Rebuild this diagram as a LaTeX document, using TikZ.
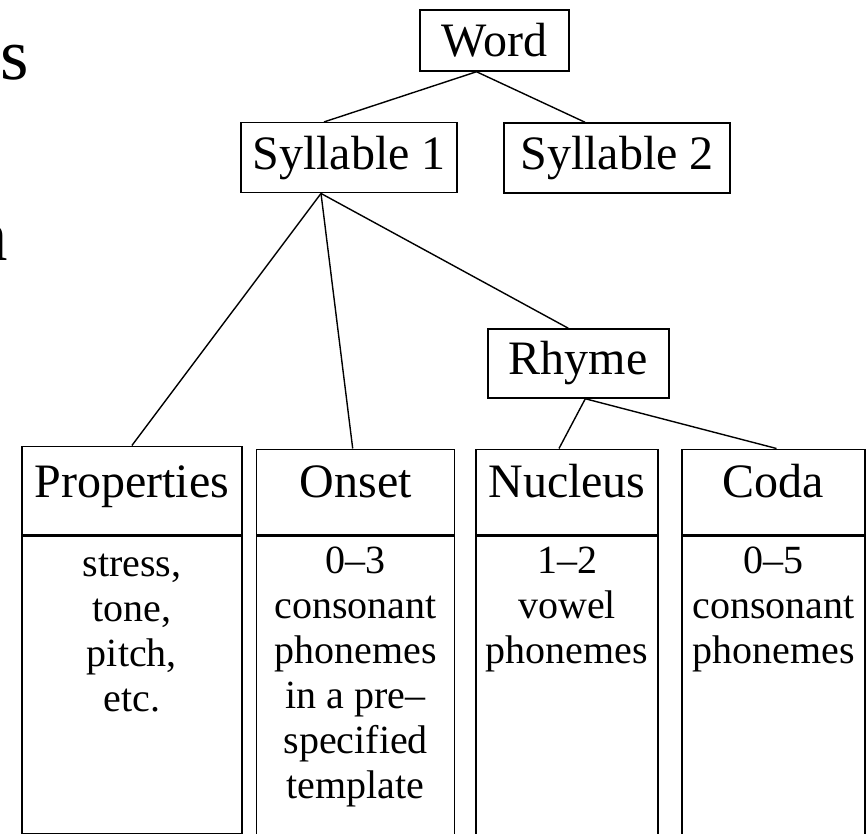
\documentclass[tikz,border=0pt]{standalone}
\usepackage{fontspec}
\setmainfont{Liberation Serif}
\usetikzlibrary{positioning}

\begin{document}
\begin{tikzpicture}[x=1pt,y=-1pt,box/.style={draw,line width=1.5pt,inner sep=0pt,font=\fontsize{48}{54}\selectfont},header/.style={box,anchor=south,text height=33pt,text depth=22pt,inner ysep=15pt},colbody/.style={draw,line width=1.5pt,anchor=north,inner sep=0pt},bodytxt/.style={align=center,inner sep=0pt,font=\fontsize{40}{45}\selectfont},link/.style={line width=1.4pt}]
\useasboundingbox (0,0) rectangle (867,834);
\node[anchor=base east,inner sep=0pt,font=\fontsize{73}{80}\selectfont] (frags) at (29,80) {s};
\node[anchor=base east,inner sep=0pt,font=\fontsize{73}{80}\selectfont] (fragn) at (8,261) {n};
\node[box,minimum width=149pt,minimum height=61pt] (word) at (494.5,40.5) {Word};
\node[box,minimum width=216pt,minimum height=70pt] (syl1) at (349,157.7) {Syllable 1};
\node[box,minimum width=226pt,minimum height=70pt] (syl2) at (617,158) {Syllable 2};
\node[box,minimum width=181pt,minimum height=69pt] (rhyme) at (578.3,363.5) {Rhyme};
% columns
\node[header,minimum width=220pt,text height=36pt] (props) at (131.9,535) {Properties};
\node[header,minimum width=198pt] (onset) at (355.7,535) {Onset};
\node[header,minimum width=182pt] (nucleus) at (567,535) {Nucleus};
\node[header,minimum width=183pt] (coda) at (773.5,535) {Coda};
\node[colbody,minimum width=220pt,minimum height=298pt] (propsbody) at (131.9,535) {};
\node[colbody,minimum width=198pt,minimum height=330pt] (onsetbody) at (355.7,535) {};
\node[colbody,minimum width=182pt,minimum height=330pt] (nucleusbody) at (567,535) {};
\node[colbody,minimum width=183pt,minimum height=330pt] (codabody) at (773.5,535) {};
\node[bodytxt,below=19pt of propsbody.north] (propstxt) {stress,\\tone,\\pitch,\\etc.};
\node[bodytxt,below=12pt of onsetbody.north] (onsettxt) {0–3\\consonant\\phonemes\\in a pre–\\specified\\template};
\node[bodytxt,below=12pt of nucleusbody.north] (nucleustxt) {1–2\\vowel\\phonemes};
\node[bodytxt,below=12pt of codabody.north] (codatxt) {0–5\\consonant\\phonemes};
% tree
\draw[link] ([xshift=-18pt]word.south) -- ([xshift=-25pt]syl1.north);
\draw[link] ([xshift=-18pt]word.south) -- ([xshift=-32pt]syl2.north);
\draw[link] ([xshift=-28pt]syl1.south) -- (props.north);
\draw[link] ([xshift=-28pt]syl1.south) -- ([xshift=-3pt]onset.north);
\draw[link] ([xshift=-28pt]syl1.south) -- ([xshift=-10pt]rhyme.north);
\draw[link] ([xshift=7pt]rhyme.south) -- ([xshift=-8pt]nucleus.north);
\draw[link] ([xshift=7pt]rhyme.south) -- ([xshift=3pt]coda.north);
\end{tikzpicture}
\end{document}
